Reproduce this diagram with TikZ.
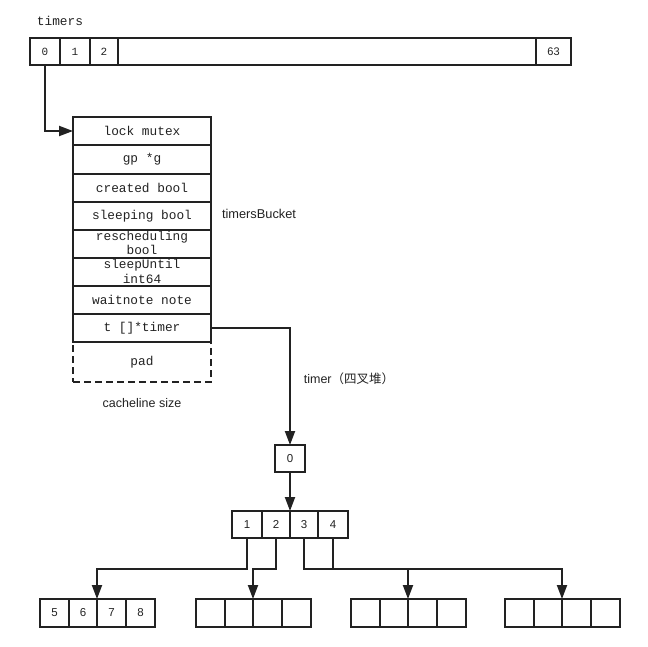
\documentclass[tikz,border=0pt]{standalone}
\usepackage{fontspec}
\setmainfont{Liberation Sans}
\setmonofont{Liberation Mono}
\newfontfamily\cjk{Noto Sans CJK SC}
\usetikzlibrary{arrows.meta}
\definecolor{ink}{HTML}{222222}
\begin{document}
\begin{tikzpicture}[x=1pt,y=-1pt,
  box/.style={draw=ink, line width=2pt, inner sep=0pt, outer sep=0pt, anchor=center, text=ink},
  field/.style={box, minimum width=138pt, minimum height=28pt, font=\fontsize{12.8}{14}\ttfamily, align=center},
  fieldtext/.style={text=ink, inner sep=0pt, anchor=base, font=\fontsize{12.8}{14}\ttfamily},
  topcell/.style={box, minimum height=27pt, font=\fontsize{11}{13}\ttfamily},
  num/.style={box, font=\fontsize{11.5}{13}\selectfont},
  conn/.style={draw=ink, line width=2pt, -{Triangle[length=14pt,width=10pt]}},
  lbl/.style={text=ink, inner sep=0pt, font=\fontsize{12.8}{14}\selectfont},
]
\useasboundingbox (0,0) rectangle (648,646);

% top array
\node[lbl, font=\fontsize{12.8}{14}\ttfamily] (timerslbl) at (60,21) {timers};
\node[topcell, minimum width=30pt] (t0) at (45,51.5) {0};
\node[topcell, minimum width=30pt] (t1) at (75,51.5) {1};
\node[topcell, minimum width=28pt] (t2) at (104,51.5) {2};
\node[topcell, minimum width=418pt] (tbig) at (327,51.5) {};
\node[topcell, minimum width=35pt, font=\fontsize{11}{13}\selectfont] (t63) at (553.5,51.5) {63};

% struct
\node[field] (r1) at (142,131) {lock mutex};
\node[field, minimum height=29pt] (r2) at (142,159.5) {gp *g};
\node[field] (r3) at (142,188) {created bool};
\node[field] (r4) at (142,216) {sleeping bool};
\node[field] (r5) at (142,244) {};
\node[field] (r6) at (142,272) {};
\node[fieldtext] (r5a) at (142,240.5) {rescheduling};
\node[fieldtext] (r5b) at (142,254.3) {bool};
\node[fieldtext] (r6a) at (142,268) {sleepUntil};
\node[fieldtext] (r6b) at (142,283) {int64};
\node[field] (r7) at (142,300) {waitnote note};
\node[field] (r8) at (142,328) {t []*timer};
\node[field, minimum height=40pt, dash pattern=on 7pt off 4pt] (pad) at (142,362) {pad};

\node[lbl] (bucketlbl) at (259,214) {timersBucket};
\node[lbl, font=\fontsize{12.5}{14}\selectfont] (cachelbl) at (142,403) {cacheline size};
\node[lbl, font=\fontsize{12.5}{14}\selectfont] (heaplbl) at (349,379) {timer{\cjk（四叉堆）}};

% heap
\node[num, minimum width=30pt, minimum height=27pt] (h0) at (290,458.5) {0};
\node[num, minimum width=30pt, minimum height=27pt] (q1) at (247,524.5) {1};
\node[num, minimum width=28pt, minimum height=27pt] (q2) at (276,524.5) {2};
\node[num, minimum width=28pt, minimum height=27pt] (q3) at (304,524.5) {3};
\node[num, minimum width=30pt, minimum height=27pt] (q4) at (333,524.5) {4};

\tikzset{leaf/.style={num, minimum height=28pt}}
\node[leaf, minimum width=29pt] (a1) at (54.5,613) {5};
\node[leaf, minimum width=28pt] (a2) at (83,613) {6};
\node[leaf, minimum width=29pt] (a3) at (111.5,613) {7};
\node[leaf, minimum width=29pt] (a4) at (140.5,613) {8};

\node[leaf, minimum width=29pt] (b1) at (210.5,613) {};
\node[leaf, minimum width=28pt] (b2) at (239,613) {};
\node[leaf, minimum width=29pt] (b3) at (267.5,613) {};
\node[leaf, minimum width=29pt] (b4) at (296.5,613) {};

\node[leaf, minimum width=29pt] (c1) at (365.5,613) {};
\node[leaf, minimum width=28pt] (c2) at (394,613) {};
\node[leaf, minimum width=29pt] (c3) at (422.5,613) {};
\node[leaf, minimum width=29pt] (c4) at (451.5,613) {};

\node[leaf, minimum width=29pt] (d1) at (519.5,613) {};
\node[leaf, minimum width=28pt] (d2) at (548,613) {};
\node[leaf, minimum width=29pt] (d3) at (576.5,613) {};
\node[leaf, minimum width=29pt] (d4) at (605.5,613) {};

% connectors
\draw[conn] (t0.south) |- (r1.west);
\draw[conn] (r8.east) -| (h0.north);
\draw[conn] (h0.south) -- (q2.north east);
\draw[conn] (q1.south) -- ++(0,31) -| (a2.north east);
\draw[conn] (q2.south) -- ++(0,31) -| (b2.north east);
\draw[conn] (q3.south) -- ++(0,31) -| (c2.north east);
\draw[conn] (q4.south) -- ++(0,31) -| (d2.north east);
\end{tikzpicture}
\end{document}
